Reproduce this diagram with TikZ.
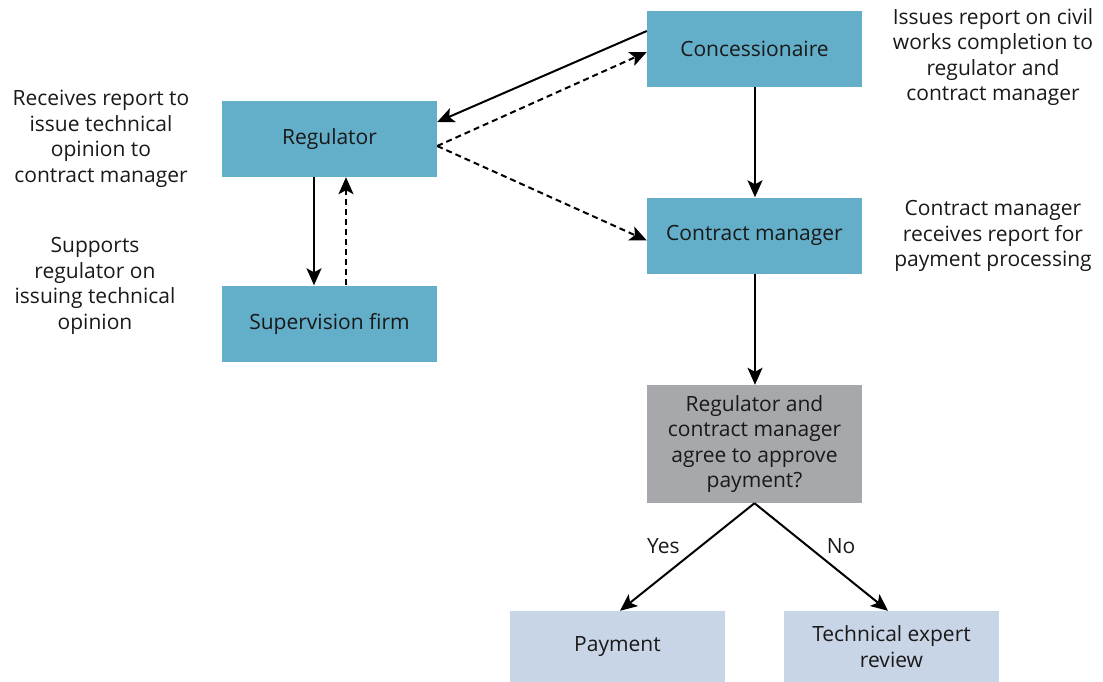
\documentclass[tikz,border=0pt]{standalone}
\usepackage{fontspec}
\setmainfont{Open Sans}
\usetikzlibrary{arrows.meta}
\definecolor{boxblue}{HTML}{63AEC8}
\definecolor{boxgrey}{HTML}{A7A8AC}
\definecolor{boxlight}{HTML}{C8D5E6}
\begin{document}
\begin{tikzpicture}[x=1pt,y=-1pt,
  every node/.style={font=\fontsize{21}{25.5}\selectfont, text=black!90},
  box/.style={minimum width=215pt, minimum height=76pt, align=center, inner sep=0pt},
  bluebox/.style={box, fill=boxblue},
  greybox/.style={box, fill=boxgrey, minimum height=118pt},
  lightbox/.style={box, fill=boxlight, minimum height=71pt},
  note/.style={align=center, inner sep=0pt},
  arr/.style={-{Stealth[length=17pt,width=15pt,inset=4pt]}, line width=2pt},
  darr/.style={arr, dash pattern=on 6pt off 4pt}]
\useasboundingbox (0,0) rectangle (1103,682);
\node[bluebox] (conc) at (754.5,49) {Concessionaire};
\node[bluebox] (reg) at (329.5,139) {Regulator};
\node[bluebox] (sup) at (329.5,323.5) {Supervision firm};
\node[bluebox] (cm) at (754.5,235.5) {Contract manager};
\node[greybox] (dec) at (754.5,444) {Regulator and\\contract manager\\agree to approve\\payment?};
\node[lightbox] (pay) at (617.5,646.5) {Payment};
\node[lightbox] (tech) at (891.5,646.5) {Technical expert\\review};

\node[note] (n1) at (993,57) {Issues report on civil\\works completion to\\regulator and\\contract manager};
\node[note] (n2) at (101,139) {Receives report to\\issue technical\\opinion to\\contract manager};
\node[note] (n3) at (95,286) {Supports\\regulator on\\issuing technical\\opinion};
\node[note] (n4) at (993,236) {Contract manager\\receives report for\\payment processing};

\coordinate (c1) at ([yshift=18pt]conc.west);
\coordinate (c2) at ([yshift=-3pt]conc.west);
\coordinate (r1) at ([yshift=17pt]reg.east);
\coordinate (r2) at ([yshift=-7pt]reg.east);
\coordinate (cm1) at ([yshift=-5pt]cm.west);
\draw[arr] (c1) -- (r1);
\draw[darr] (r2) -- (c2);
\draw[darr] (r2) -- (cm1);
\draw[arr] ([xshift=0.5pt]conc.south) -- ([xshift=0.5pt]cm.north);
\draw[arr] ([xshift=-15.5pt]reg.south) -- ([xshift=-15.5pt]sup.north);
\draw[darr] ([xshift=16.5pt]sup.north) -- ([xshift=16.5pt]reg.south);
\draw[arr] ([xshift=0.5pt]cm.south) -- ([xshift=0.5pt]dec.north);
\draw[arr] (dec.south) -- node[pos=0.4, anchor=east, inner sep=0pt, xshift=-20pt] {Yes} ([xshift=2.5pt]pay.north);
\draw[arr] (dec.south) -- node[pos=0.4, anchor=west, inner sep=0pt, xshift=18pt] {No} ([xshift=-3.5pt]tech.north);
\end{tikzpicture}
\end{document}
